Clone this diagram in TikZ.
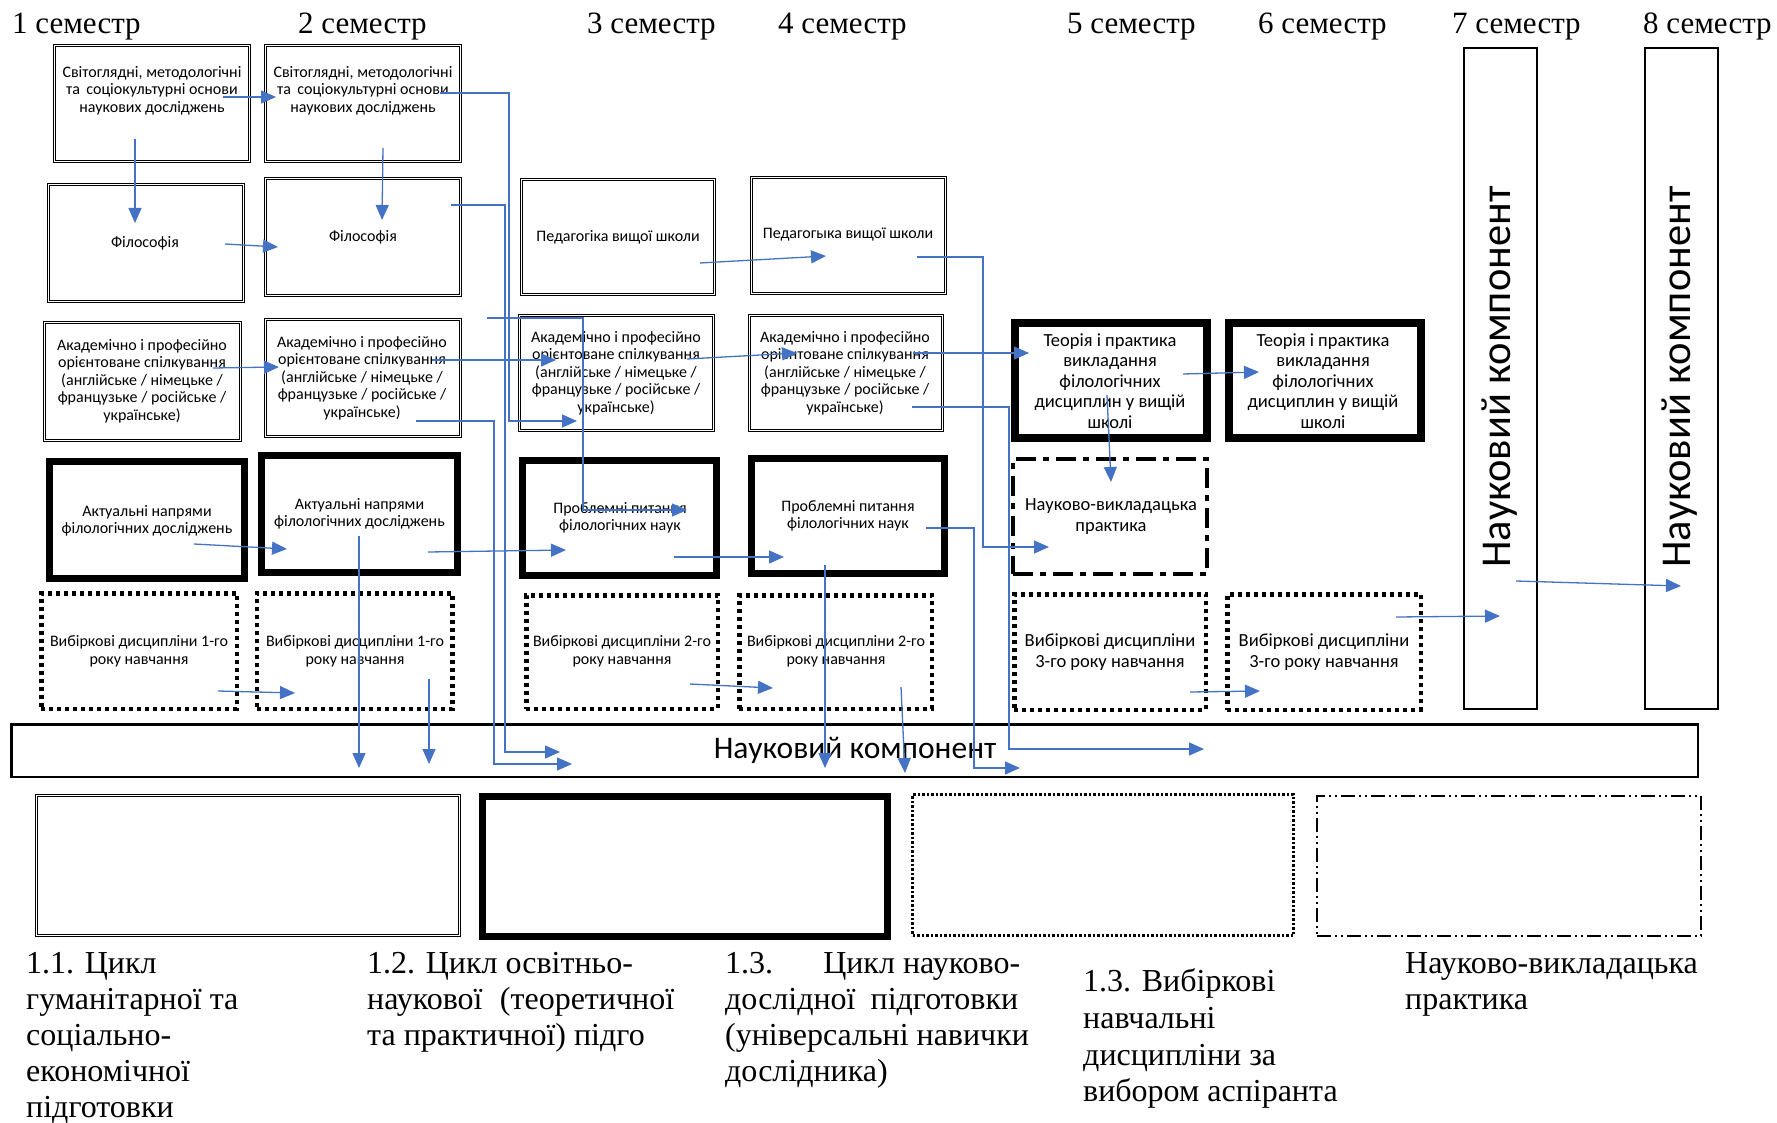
\documentclass[tikz,border=0pt]{standalone}
\usepackage{fontspec}
\setmainfont{Liberation Serif}
\newfontfamily\calfont{Carlito}
\usetikzlibrary{arrows.meta}
\definecolor{arrowblue}{HTML}{4472C4}
\begin{document}
\begin{tikzpicture}[x=1pt,y=-1pt,
  box/.style={draw, inner sep=0pt, outer sep=0pt},
  dblbox/.style={box, line width=1.1pt, double, double distance=1.6pt},
  thkbox/.style={box, line width=6.5pt},
  dotbox/.style={box, line width=4.5pt, dash pattern=on 4pt off 4pt},
  ddbox/.style={box, line width=4pt, dash pattern=on 20pt off 7pt on 6pt off 7pt},
  plainbox/.style={box, line width=2pt},
  lgdot/.style={box, line width=3pt, dash pattern=on 2.5pt off 2pt},
  lgdd/.style={box, line width=1.8pt, dash pattern=on 14pt off 4pt on 2pt off 4pt on 2pt off 4pt},
  btxt/.style={font=\calfont\fontsize{16}{17.5}\selectfont, align=center, inner sep=0pt},
  etxt/.style={font=\calfont\fontsize{18.5}{20.5}\selectfont, align=center, inner sep=0pt},
  sem/.style={font=\fontsize{31}{36}\selectfont, anchor=base west, inner sep=0pt},
  lg/.style={font=\fontsize{32}{36}\selectfont, anchor=base west, inner sep=0pt},
  conn/.style={draw=arrowblue, line width=1.3pt, -{Triangle[length=15pt,width=13pt]}},
  ]
\fill[white] (0,0) rectangle (1777,1123);
\useasboundingbox (0,0) rectangle (1777,1123);

% semester headers
\node[sem] (s1) at (12,34) {1 семестр};
\node[sem] (s2) at (298,34) {2 семестр};
\node[sem] (s3) at (587,34) {3 семестр};
\node[sem] (s4) at (778,34) {4 семестр};
\node[sem] (s5) at (1067,34) {5 семестр};
\node[sem] (s6) at (1258,34) {6 семестр};
\node[sem] (s7) at (1452,34) {7 семестр};
\node[sem] (s8) at (1643,34) {8 семестр};

% row A
\node[dblbox, minimum width=195pt, minimum height=116pt] (A1) at (152,103.5) {};
\node[dblbox, minimum width=195pt, minimum height=116pt] (A2) at (363,103.5) {};
\node[btxt] (tA1) at (152,90.5) {Світоглядні, методологічні\\та\, соціокультурні основи\\наукових досліджень};
\node[btxt] (tA2) at (363,90.5) {Світоглядні, методологічні\\та\, соціокультурні основи\\наукових досліджень};

% row B / C
\node[dblbox, minimum width=195pt, minimum height=117pt] (B1) at (146,243) {};
\node[dblbox, minimum width=195pt, minimum height=117pt] (B2) at (363,237) {};
\node[dblbox, minimum width=193pt, minimum height=115pt] (C3) at (618,237) {};
\node[dblbox, minimum width=194pt, minimum height=116pt] (C4) at (848.5,235.5) {};
\node[btxt] (tB1) at (145,243) {Філософія};
\node[btxt] (tB2) at (363,237) {Філософія};
\node[btxt] (tC3) at (618,237) {Педагогіка вищої школи};
\node[btxt] (tC4) at (848,235) {Педагогыка вищої школи};

% row D / E
\node[dblbox, minimum width=196pt, minimum height=118pt] (D1) at (142.5,381.5) {};
\node[dblbox, minimum width=195pt, minimum height=117pt] (D2) at (363,378) {};
\node[dblbox, minimum width=194pt, minimum height=115pt] (D3) at (616.5,373) {};
\node[dblbox, minimum width=193pt, minimum height=115pt] (D4) at (846,373) {};
\node[btxt] (tD1) at (142,381) {Академічно і професійно\\орієнтоване спілкування\\(англійське / німецьке /\\французьке / російське /\\українське)};
\node[btxt] (tD2) at (362,378) {Академічно і професійно\\орієнтоване спілкування\\(англійське / німецьке /\\французьке / російське /\\українське)};
\node[btxt] (tD3) at (616,373) {Академічно і професійно\\орієнтоване спілкування\\(англійське / німецьке /\\французьке / російське /\\українське)};
\node[btxt] (tD4) at (845,373) {Академічно і професійно\\орієнтоване спілкування\\(англійське / німецьке /\\французьке / російське /\\українське)};
\node[thkbox, line width=8pt, minimum width=192pt, minimum height=115pt] (E5) at (1111,380.5) {};
\node[thkbox, line width=8pt, minimum width=192pt, minimum height=115pt] (E6) at (1324.5,380.5) {};
\node[etxt] (tE5) at (1110,381) {Теорія і практика\\викладання\\філологічних\\дисциплин у вищій\\школі};
\node[etxt] (tE6) at (1323,381) {Теорія і практика\\викладання\\філологічних\\дисциплин у вищій\\школі};

% row F / G / H
\node[thkbox, minimum width=195pt, minimum height=117pt] (F1) at (147,520) {};
\node[thkbox, minimum width=196pt, minimum height=117pt] (F2) at (359.5,514) {};
\node[thkbox, minimum width=194pt, minimum height=115pt] (G3) at (619.5,518) {};
\node[thkbox, minimum width=193pt, minimum height=115pt] (G4) at (848,516) {};
\node[ddbox, minimum width=194pt, minimum height=115pt] (H5) at (1110,516.5) {};
\node[btxt] (tF1) at (147,521) {Актуальні напрями\\філологічних досліджень};
\node[btxt] (tF2) at (359.5,514) {Актуальні напрями\\філологічних досліджень};
\node[btxt] (tG3) at (620,518) {Проблемні питання\\філологічних наук};
\node[btxt] (tG4) at (848,516) {Проблемні питання\\філологічних наук};
\node[etxt] (tH5) at (1111,516.5) {Науково-викладацька\\практика};

% row I
\node[dotbox, minimum width=195.5pt, minimum height=115.5pt] (I1) at (139,651) {};
\node[dotbox, minimum width=195.5pt, minimum height=115.5pt] (I2) at (354.5,651) {};
\node[dotbox, minimum width=191.5pt, minimum height=113.5pt] (I3) at (622,652) {};
\node[dotbox, minimum width=192.5pt, minimum height=113.5pt] (I4) at (835.5,652) {};
\node[dotbox, minimum width=191.5pt, minimum height=115.5pt] (I5) at (1110,652) {};
\node[dotbox, minimum width=193.5pt, minimum height=115.5pt] (I6) at (1324,652) {};
\node[btxt] (tI1) at (139,651.5) {Вибіркові дисципліни 1-го\\року навчання};
\node[btxt] (tI2) at (355,651.5) {Вибіркові дисципліни 1-го\\року навчання};
\node[btxt] (tI3) at (622,651.5) {Вибіркові дисципліни 2-го\\року навчання};
\node[btxt] (tI4) at (836,651.5) {Вибіркові дисципліни 2-го\\року навчання};
\node[etxt] (tI5) at (1110,652) {Вибіркові дисципліни\\3-го року навчання};
\node[etxt] (tI6) at (1324,652) {Вибіркові дисципліни\\3-го року навчання};

% vertical science components
\node[plainbox, minimum width=73pt, minimum height=661pt] (J7) at (1500.5,378.5) {};
\node[plainbox, minimum width=73pt, minimum height=661pt] (J8) at (1681,378.5) {};
\node[inner sep=0pt, rotate=90, font=\calfont\fontsize{42.5}{48}\selectfont] (tJ7) at (1500,377) {Науковий компонент};
\node[inner sep=0pt, rotate=90, font=\calfont\fontsize{42.5}{48}\selectfont] (tJ8) at (1680,377) {Науковий компонент};

% horizontal bar
\node[plainbox, line width=2.5pt, minimum width=1686.5pt, minimum height=52.5pt] (K) at (854.5,750.5) {};
\node[inner sep=0pt, font=\calfont\fontsize{31.5}{36}\selectfont] (tK) at (855,750) {Науковий компонент};

% legend boxes
\node[dblbox, minimum width=423pt, minimum height=140pt] (L1) at (248,865.5) {};
\node[thkbox, line width=7pt, minimum width=405pt, minimum height=140pt] (L2) at (685,866.5) {};
\node[lgdot, minimum width=381pt, minimum height=141pt] (L3) at (1103,865) {};
\node[lgdd, minimum width=384pt, minimum height=140pt] (L4) at (1509,866) {};

% legend texts
\node[lg] (g11a) at (26,973) {1.1. Цикл};
\node[lg] (g11b) at (26,1009) {гуманітарної та};
\node[lg] (g11c) at (26,1045.5) {соціально-};
\node[lg] (g11d) at (26,1081.5) {економічної};
\node[lg] (g11e) at (26,1117) {підготовки};
\node[lg] (g12a) at (367,973) {1.2. Цикл освітньо-};
\node[lg] (g12b) at (367,1009) {\makebox[307pt][s]{наукової\hfill(теоретичної}};
\node[lg] (g12c) at (367,1045.5) {та практичної) підго};
\node[lg] (g13a) at (725,973) {\makebox[295pt][s]{1.3.\hfill Цикл науково-}};
\node[lg] (g13b) at (725,1009) {\makebox[293pt][s]{дослідної\hfill підготовки}};
\node[lg] (g13c) at (725,1045.5) {(універсальні навички};
\node[lg] (g13d) at (725,1081.5) {дослідника)};
\node[lg] (g14a) at (1083,991.5) {1.3. Вибіркові};
\node[lg] (g14b) at (1083,1028.5) {навчальні};
\node[lg] (g14c) at (1083,1065) {дисципліни за};
\node[lg] (g14d) at (1083,1101.5) {вибором аспіранта};
\node[lg] (g15a) at (1405,973) {Науково-викладацька};
\node[lg] (g15b) at (1405,1009) {практика};

% connector end points
\coordinate (p1s) at (223,97);   \coordinate (p1e) at (276,97);
\coordinate (p2s) at (135,139);  \coordinate (p2e) at (135,223);
\coordinate (p3s) at (383,148);  \coordinate (p3e) at (382,220);
\coordinate (p4s) at (225,244);  \coordinate (p4e) at (278,247);
\coordinate (p5s) at (440,93);   \coordinate (p5e) at (577,421);
\coordinate (p6s) at (451,205);  \coordinate (p6e) at (560,752);
\coordinate (p7s) at (213,368);  \coordinate (p7e) at (279,367);
\coordinate (p8s) at (432,360);  \coordinate (p8e) at (556,360);
\coordinate (p9s) at (416,421);  \coordinate (p9e) at (572,764);
\coordinate (p10s) at (487,318); \coordinate (p10e) at (687,510);
\coordinate (p11s) at (428,552); \coordinate (p11e) at (566,550);
\coordinate (p12s) at (674,557); \coordinate (p12e) at (784,557);
\coordinate (p13s) at (687,359); \coordinate (p13e) at (797,353);
\coordinate (p14s) at (913,353); \coordinate (p14e) at (1029,353);
\coordinate (p15s) at (912,407); \coordinate (p15e) at (1204,749);
\coordinate (p16s) at (926,528); \coordinate (p16e) at (1020,768);
\coordinate (p17s) at (917,257); \coordinate (p17e) at (1049,547);
\coordinate (p18s) at (700,263); \coordinate (p18e) at (826,256);
\coordinate (p19s) at (1183,374); \coordinate (p19e) at (1259,372);
\coordinate (p20s) at (1107,395); \coordinate (p20e) at (1111,482);
\coordinate (p21s) at (1516,581); \coordinate (p21e) at (1681,586);
\coordinate (p22s) at (1396,617); \coordinate (p22e) at (1500,616);
\coordinate (p23s) at (1190,692); \coordinate (p23e) at (1260,691);
\coordinate (p24s) at (218,691); \coordinate (p24e) at (295,693);
\coordinate (p25s) at (429,679); \coordinate (p25e) at (429,764);
\coordinate (p26s) at (359,536); \coordinate (p26e) at (359,768);
\coordinate (p27s) at (194,544); \coordinate (p27e) at (287,549);
\coordinate (p28s) at (690,684); \coordinate (p28e) at (773,688);
\coordinate (p29s) at (901,687); \coordinate (p29e) at (905,773);
\coordinate (p30s) at (825,565); \coordinate (p30e) at (825,768);

% connectors
\draw[conn] (p1s) -- (p1e);
\draw[conn] (p2s) -- (p2e);
\draw[conn] (p3s) -- (p3e);
\draw[conn] (p4s) -- (p4e);
\draw[conn] (p5s) -- (509,93) -- (509,421) -- (p5e);
\draw[conn] (p6s) -- (505,205) -- (505,752) -- (p6e);
\draw[conn] (p7s) -- (p7e);
\draw[conn] (p8s) -- (p8e);
\draw[conn] (p9s) -- (494,421) -- (494,764) -- (p9e);
\draw[conn] (p10s) -- (583,318) -- (583,510) -- (p10e);
\draw[conn] (p11s) -- (p11e);
\draw[conn] (p12s) -- (p12e);
\draw[conn] (p13s) -- (p13e);
\draw[conn] (p14s) -- (p14e);
\draw[conn] (p15s) -- (1009,407) -- (1009,749) -- (p15e);
\draw[conn] (p16s) -- (974,528) -- (974,768) -- (p16e);
\draw[conn] (p17s) -- (983,257) -- (983,547) -- (p17e);
\draw[conn] (p18s) -- (p18e);
\draw[conn] (p19s) -- (p19e);
\draw[conn] (p20s) -- (p20e);
\draw[conn] (p21s) -- (p21e);
\draw[conn] (p22s) -- (p22e);
\draw[conn] (p23s) -- (p23e);
\draw[conn] (p24s) -- (p24e);
\draw[conn] (p25s) -- (p25e);
\draw[conn] (p26s) -- (p26e);
\draw[conn] (p27s) -- (p27e);
\draw[conn] (p28s) -- (p28e);
\draw[conn] (p29s) -- (p29e);
\draw[conn] (p30s) -- (p30e);
\end{tikzpicture}
\end{document}
